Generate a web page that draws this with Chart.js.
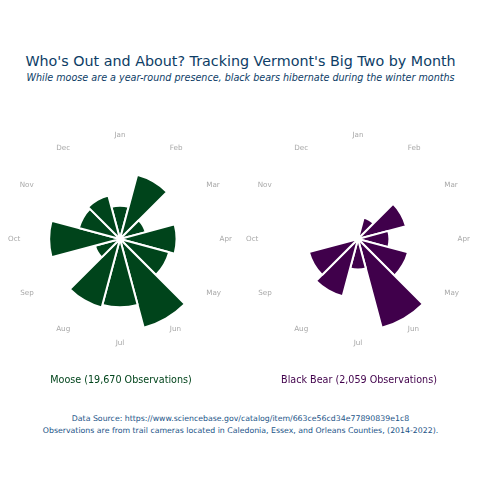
<!DOCTYPE html>
<html>
<head>
<meta charset="utf-8">
<script src="https://cdn.jsdelivr.net/npm/chart.js@4.4.1/dist/chart.umd.min.js"></script>
<style>
  html, body { margin: 0; padding: 0; background: #fff; }
  body { width: 481px; height: 478px; position: relative; overflow: hidden; font-family: "DejaVu Sans", Verdana, sans-serif; }
  #title { position: absolute; top: 53px; left: 0; width: 481px; text-align: center; font-size: 14.3px; color: #0d3d66; white-space: nowrap; }
  #subtitle { position: absolute; top: 72px; left: 0; width: 481px; text-align: center; font-size: 9.6px; font-style: italic; color: #0d3d66; white-space: nowrap; }
  .box { position: absolute; top: 117px; width: 240px; height: 273px; }
  #footer { position: absolute; top: 413px; left: 0; width: 481px; text-align: center; font-size: 7.8px; line-height: 12px; color: #1b5487; }
</style>
</head>
<body>
<div id="title">Who's Out and About? Tracking Vermont's Big Two by Month</div>
<div id="subtitle">While moose are a year-round presence, black bears hibernate during the winter months</div>
<div class="box" style="left:1px"><canvas id="moose"></canvas></div>
<div class="box" style="left:239px"><canvas id="bear"></canvas></div>
<div id="footer">Data Source: https://www.sciencebase.gov/catalog/item/663ce56cd34e77890839e1c8<br>Observations are from trail cameras located in Caledonia, Essex, and Orleans Counties, (2014-2022).</div>
<script>
const months = ['Jan', 'Feb', 'Mar', 'Apr', 'May', 'Jun', 'Jul', 'Aug', 'Sep', 'Oct', 'Nov', 'Dec'];
const mooseCounts = [1008, 2016, 806, 1714, 1542, 2782, 2066, 2147, 786, 2147, 1290, 1366];
const bearCounts = [0, 118, 264, 167, 275, 488, 162, 315, 270, 0, 0, 0];
const mooseTitle = 'Moose (19,670 Observations)';
const bearTitle = 'Black Bear (2,059 Observations)';

function rose(id, values, color, title) {
    return new Chart(document.getElementById(id), {
        type: 'polarArea',
        data: {
            labels: months,
            datasets: [{
                data: values,
                backgroundColor: color,
                borderColor: '#ffffff',
                borderWidth: 2
            }]
        },
        options: {
            responsive: true,
            maintainAspectRatio: false,
            animation: false,
            layout: { padding: { left: 8, right: 8, top: 0, bottom: 0 } },
            scales: {
                r: {
                    // wedges centred on the month, Jan straight up
                    startAngle: -15,
                    min: 0,
                    max: Math.max(...values) * 1.03,
                    ticks: { display: false },
                    grid: { display: false },
                    angleLines: { display: false },
                    pointLabels: {
                        display: true,
                        centerPointLabels: true,
                        padding: 5,
                        color: '#a8a8a8',
                        font: { family: 'DejaVu Sans', size: 7.2 }
                    }
                }
            },
            plugins: {
                legend: { display: false },
                tooltip: { enabled: false },
                title: {
                    display: true,
                    position: 'bottom',
                    text: title,
                    color: color,
                    padding: { top: 12, bottom: 4 },
                    font: { family: 'DejaVu Sans', size: 9.6, weight: 'normal' }
                }
            }
        }
    });
}

rose('moose', mooseCounts, '#00441b', mooseTitle);
rose('bear', bearCounts, '#40004b', bearTitle);
</script>
</body>
</html>
